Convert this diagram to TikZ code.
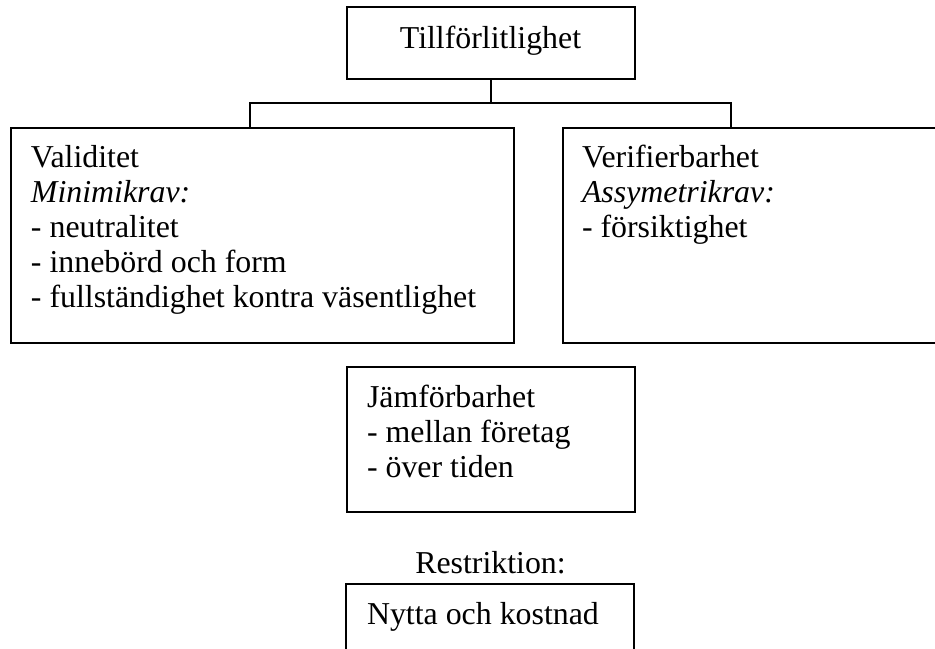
\documentclass[tikz,border=0pt]{standalone}
\usepackage{fontspec}
\setmainfont{Liberation Serif}
\tikzset{
  box/.style={draw=black, line width=1.2pt, rectangle, anchor=north west, inner sep=0pt, outer sep=0pt},
  txt/.style={inner sep=0pt, outer sep=0pt, align=left, font=\fontsize{23.9pt}{26.2pt}\selectfont},
  conn/.style={draw=black, line width=1.2pt}
}
\begin{document}
\begin{tikzpicture}[x=0.75pt, y=-0.75pt]
\useasboundingbox (0,0) rectangle (935,649);
\clip (0,0) rectangle (935,649);
% boxes
\node[box, minimum width=288*0.75pt, minimum height=72*0.75pt] (topbox) at (347,7) {};
\node[box, minimum width=503*0.75pt, minimum height=215*0.75pt] (valbox) at (11,128) {};
\node[box, minimum width=420*0.75pt, minimum height=215*0.75pt] (verbox) at (563,128) {};
\node[box, minimum width=288*0.75pt, minimum height=145*0.75pt] (jambox) at (347,367) {};
\node[box, minimum width=288*0.75pt, minimum height=120*0.75pt] (nytbox) at (346,584) {};
% texts (base anchor = baseline of the last line)
\node[txt, anchor=base] (toptxt) at (490.5,49) {Tillförlitlighet};
\node[txt, anchor=base west] (valtxt) at (31,307) {Validitet\\\textit{Minimikrav:}\\- neutralitet\\- innebörd och form\\- fullständighet kontra väsentlighet};
\node[txt, anchor=base west] (vertxt) at (582,237.3) {Verifierbarhet\\\textit{Assymetrikrav:}\\- försiktighet};
\node[txt, anchor=base west] (jamtxt) at (367,477) {Jämförbarhet\\- mellan företag\\- över tiden};
\node[txt, anchor=base] (restxt) at (490.5,573) {Restriktion:};
\node[txt, anchor=base west] (nyttxt) at (367,624) {Nytta och kostnad};
% connectors
\coordinate (barL) at (250,103);
\coordinate (barR) at (731,103);
\draw[conn] (topbox.south) -- (topbox.south |- barL);
\draw[conn] (valbox.north west -| barL) -- (barL) -- (barR) -- (verbox.north west -| barR);
\end{tikzpicture}
\end{document}
